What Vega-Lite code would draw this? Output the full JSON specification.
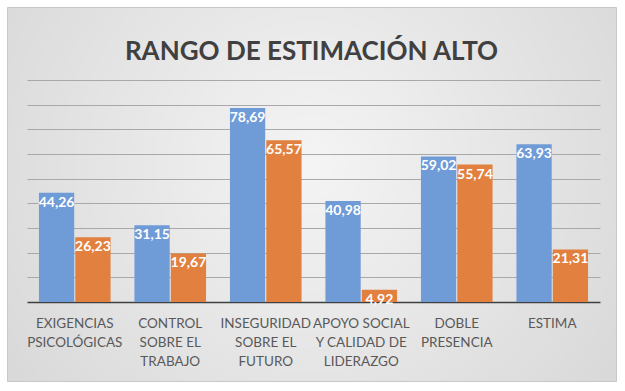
{
  "$schema": "https://vega.github.io/schema/vega-lite/v6.json",
  "width": 609,
  "height": 374,
  "autosize": {"type": "none"},
  "padding": {"left": 7, "top": 7, "right": 9, "bottom": 10},
  "background": "#ffffff",
  "title": {
    "text": "RANGO DE ESTIMACIÓN ALTO",
    "font": "Lato",
    "fontSize": 26,
    "fontWeight": "bold",
    "color": "#404040",
    "anchor": "middle",
    "baseline": "alphabetic",
    "offset": -51,
    "dy": 28
  },
  "config": {
    "locale": {"number": {"decimal": ",", "thousands": ".", "grouping": [3], "currency": ["", " €"]}},
    "view": {
      "stroke": "#c8c8c8",
      "strokeWidth": 1,
      "fill": {
        "gradient": "radial",
        "x1": 0.5, "y1": 0.45, "r1": 0,
        "x2": 0.5, "y2": 0.45, "r2": 0.75,
        "stops": [
          {"offset": 0, "color": "#f4f4f4"},
          {"offset": 1, "color": "#d2d2d2"}
        ]
      }
    }
  },
  "data": {
    "values": [
      {"categoria": "EXIGENCIAS\nPSICOLÓGICAS", "serie": "Serie1", "valor": 44.26},
      {"categoria": "EXIGENCIAS\nPSICOLÓGICAS", "serie": "Serie2", "valor": 26.23},
      {"categoria": "CONTROL\nSOBRE EL\nTRABAJO", "serie": "Serie1", "valor": 31.15},
      {"categoria": "CONTROL\nSOBRE EL\nTRABAJO", "serie": "Serie2", "valor": 19.67},
      {"categoria": "INSEGURIDAD\nSOBRE EL\nFUTURO", "serie": "Serie1", "valor": 78.69},
      {"categoria": "INSEGURIDAD\nSOBRE EL\nFUTURO", "serie": "Serie2", "valor": 65.57},
      {"categoria": "APOYO SOCIAL\nY CALIDAD DE\nLIDERAZGO", "serie": "Serie1", "valor": 40.98},
      {"categoria": "APOYO SOCIAL\nY CALIDAD DE\nLIDERAZGO", "serie": "Serie2", "valor": 4.92},
      {"categoria": "DOBLE\nPRESENCIA", "serie": "Serie1", "valor": 59.02},
      {"categoria": "DOBLE\nPRESENCIA", "serie": "Serie2", "valor": 55.74},
      {"categoria": "ESTIMA", "serie": "Serie1", "valor": 63.93},
      {"categoria": "ESTIMA", "serie": "Serie2", "valor": 21.31}
    ]
  },
  "encoding": {
    "x": {
      "field": "categoria",
      "type": "nominal",
      "sort": null,
      "scale": {"range": [20, 593], "paddingInner": 0.25, "paddingOuter": 0.125},
      "axis": {
        "orient": "bottom",
        "offset": -79,
        "title": null,
        "labelAngle": 0,
        "labelExpr": "split(datum.label, '\\n')",
        "labelFont": "Lato",
        "labelFontSize": 13.5,
        "labelColor": "#595959",
        "labelLineHeight": 19,
        "labelPadding": 14,
        "labelBaseline": "top",
        "ticks": false,
        "domainColor": "#404040",
        "domainWidth": 1.5,
        "grid": false
      }
    },
    "xOffset": {"field": "serie", "type": "nominal", "scale": {"paddingInner": 0.03}},
    "y": {
      "field": "valor",
      "type": "quantitative",
      "scale": {"domain": [0, 90], "range": [295, 73], "nice": false},
      "axis": {
        "title": null,
        "labels": false,
        "ticks": false,
        "domain": false,
        "grid": true,
        "values": [10, 20, 30, 40, 50, 60, 70, 80, 90],
        "gridColor": "#a8a8a8",
        "gridWidth": 1
      }
    }
  },
  "layer": [
    {
      "mark": {"type": "bar"},
      "encoding": {
        "color": {
          "field": "serie",
          "type": "nominal",
          "scale": {"range": ["#6f9bd7", "#e2803f"]},
          "legend": null
        }
      }
    },
    {
      "mark": {
        "type": "text",
        "baseline": "top",
        "dy": 3,
        "color": "#ffffff",
        "font": "Lato",
        "fontSize": 14,
        "fontWeight": "bold"
      },
      "encoding": {
        "text": {"field": "valor", "type": "quantitative", "format": ".2f"}
      }
    }
  ]
}
